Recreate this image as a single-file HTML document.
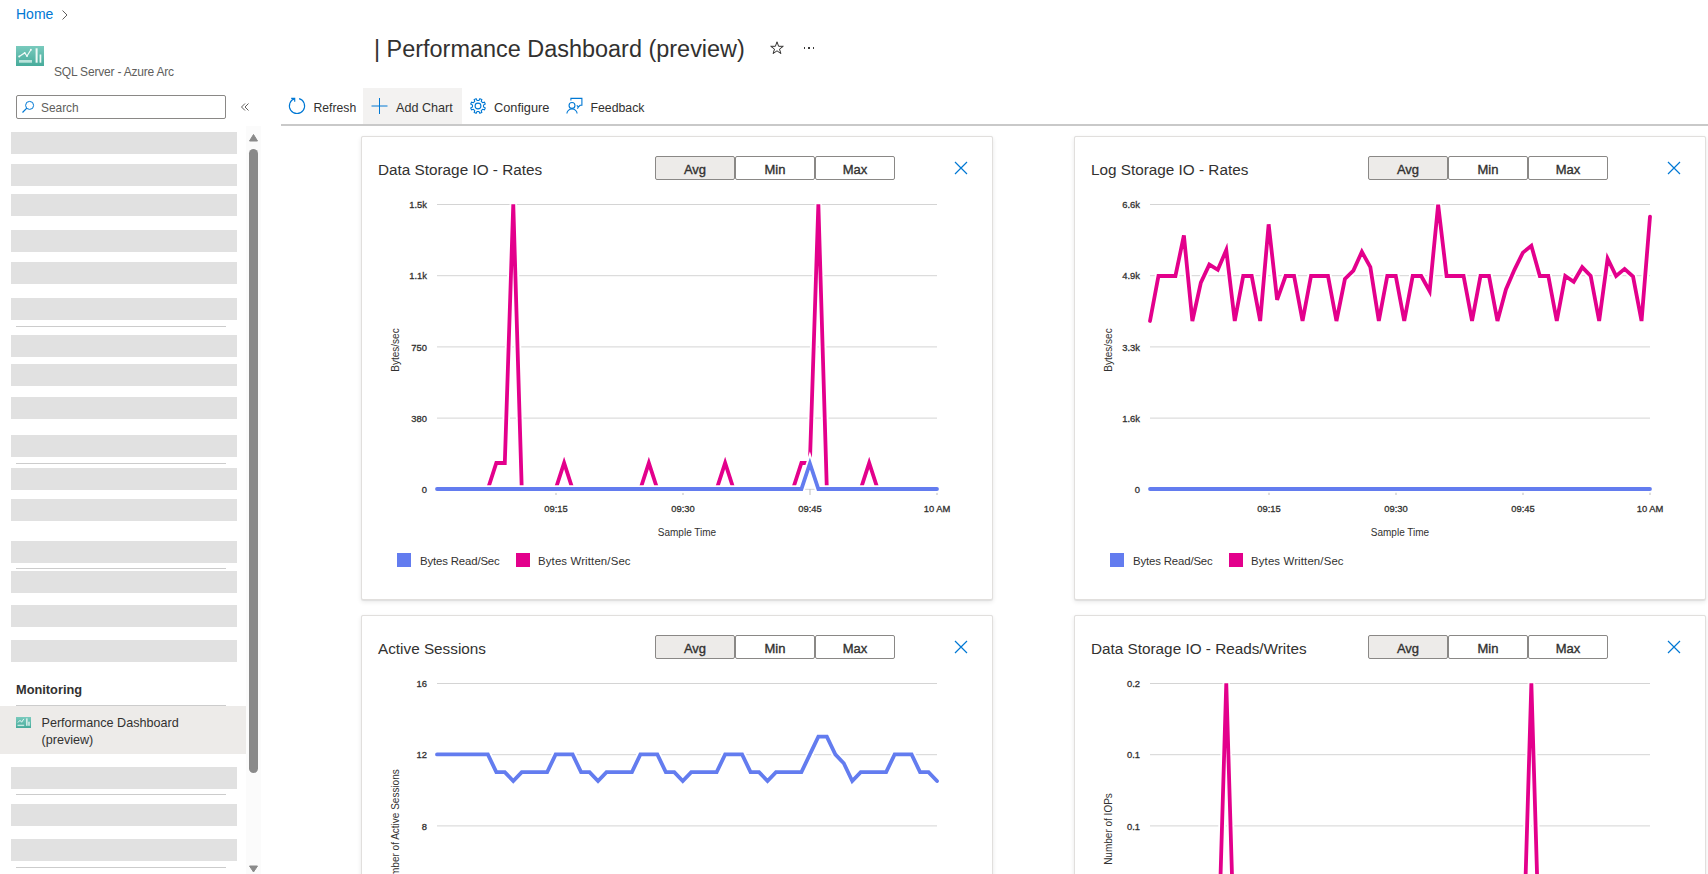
<!DOCTYPE html>
<html><head><meta charset="utf-8"><title>Performance Dashboard</title>
<style>
html,body{margin:0;padding:0;}
body{width:1708px;height:874px;position:relative;overflow:hidden;background:#fff;font-family:"Liberation Sans",sans-serif;}
.a{position:absolute;}
.t{position:absolute;white-space:nowrap;}
.card{border:1px solid #e1dfdd;border-radius:2px;background:#fff;box-shadow:0 2px 5px rgba(0,0,0,0.09),0 0.3px 0.9px rgba(0,0,0,0.07);}
.btn{width:78px;height:22px;border:1px solid #8a8886;border-radius:2px;font-size:13px;font-weight:400;-webkit-text-stroke:0.35px #323130;line-height:25.5px;text-align:center;color:#323130;}
</style></head><body>
<div class="t" style="left:16.00px;top:5.75px;font-size:14px;line-height:16.80px;color:#0078d4;font-weight:400;">Home</div>
<svg class="a" style="left:60px;top:8px" width="10" height="14" viewBox="0 0 10 14"><path d="M2.5 2.5 L7 7 L2.5 11.5" fill="none" stroke="#605e5c" stroke-width="1"/></svg>
<svg class="a" style="left:16px;top:46px" width="28" height="20" viewBox="0 0 28 20">
<defs><linearGradient id="tg" x1="0" y1="0" x2="0" y2="1"><stop offset="0" stop-color="#79cabd"/><stop offset="1" stop-color="#47ab9b"/></linearGradient></defs>
<rect x="0" y="0" width="28" height="20" fill="url(#tg)"/>
<polyline points="3.2,10.4 8.7,6.9 11,10 14.9,3.8" fill="none" stroke="#eef9f6" stroke-width="1.2"/>
<circle cx="3.2" cy="10.4" r="1" fill="#eef9f6"/><circle cx="8.7" cy="6.9" r="0.9" fill="#eef9f6"/><circle cx="11" cy="10" r="0.9" fill="#eef9f6"/><circle cx="14.9" cy="3.8" r="1" fill="#eef9f6"/>
<rect x="3" y="14" width="13" height="2.7" fill="#b9e3db"/>
<rect x="19.6" y="2.3" width="2" height="14.4" fill="#eef9f6"/>
<rect x="23.6" y="8.5" width="1.7" height="8.2" fill="#eef9f6"/>
</svg>
<div class="t" style="left:54.00px;top:64.64px;font-size:12px;line-height:14.40px;color:#605e5c;font-weight:400;letter-spacing:-0.2px;">SQL Server - Azure Arc</div>
<div class="t" style="left:374.00px;top:34.80px;font-size:23.45px;line-height:28.14px;color:#323130;font-weight:400;">| Performance Dashboard (preview)</div>
<svg class="a" style="left:769px;top:40px" width="16" height="16" viewBox="0 0 16 16"><path d="M8 1.8 L9.6 6.3 L14.3 6.3 L10.5 9.1 L11.9 13.6 L8 10.8 L4.1 13.6 L5.5 9.1 L1.7 6.3 L6.4 6.3 Z" fill="none" stroke="#323130" stroke-width="1" stroke-linejoin="miter"/></svg>
<div class="a" style="left:803.65px;top:47.2px;width:1.6px;height:1.6px;background:#3b3a39"></div>
<div class="a" style="left:808.25px;top:47.2px;width:1.6px;height:1.6px;background:#3b3a39"></div>
<div class="a" style="left:812.75px;top:47.2px;width:1.6px;height:1.6px;background:#3b3a39"></div>
<div class="a" style="left:16px;top:95px;width:208px;height:22px;border:1px solid #8a8886;border-radius:2px;background:#fff"></div>
<svg class="a" style="left:21px;top:100px" width="14" height="14" viewBox="0 0 14 14"><circle cx="8.6" cy="5.4" r="4" fill="none" stroke="#0078d4" stroke-width="1"/><line x1="5.8" y1="8.2" x2="1.5" y2="12.5" stroke="#0078d4" stroke-width="1.2"/></svg>
<div class="t" style="left:41.00px;top:101.14px;font-size:11.9px;line-height:14.28px;color:#605e5c;font-weight:400;">Search</div>
<svg class="a" style="left:239px;top:101px" width="12" height="12" viewBox="0 0 12 12"><path d="M6 2.5 L2.5 6 L6 9.5 M9.5 2.5 L6 6 L9.5 9.5" fill="none" stroke="#605e5c" stroke-width="1"/></svg>
<div class="a" style="left:11px;top:132px;width:226px;height:22px;background:#e1e1e1"></div>
<div class="a" style="left:11px;top:164px;width:226px;height:22px;background:#e1e1e1"></div>
<div class="a" style="left:11px;top:194px;width:226px;height:22px;background:#e1e1e1"></div>
<div class="a" style="left:11px;top:230px;width:226px;height:22px;background:#e1e1e1"></div>
<div class="a" style="left:11px;top:262px;width:226px;height:22px;background:#e1e1e1"></div>
<div class="a" style="left:11px;top:298px;width:226px;height:22px;background:#e1e1e1"></div>
<div class="a" style="left:11px;top:335px;width:226px;height:22px;background:#e1e1e1"></div>
<div class="a" style="left:11px;top:364px;width:226px;height:22px;background:#e1e1e1"></div>
<div class="a" style="left:11px;top:397px;width:226px;height:22px;background:#e1e1e1"></div>
<div class="a" style="left:11px;top:435px;width:226px;height:22px;background:#e1e1e1"></div>
<div class="a" style="left:11px;top:468px;width:226px;height:22px;background:#e1e1e1"></div>
<div class="a" style="left:11px;top:499px;width:226px;height:22px;background:#e1e1e1"></div>
<div class="a" style="left:11px;top:541px;width:226px;height:22px;background:#e1e1e1"></div>
<div class="a" style="left:11px;top:571px;width:226px;height:22px;background:#e1e1e1"></div>
<div class="a" style="left:11px;top:605px;width:226px;height:22px;background:#e1e1e1"></div>
<div class="a" style="left:11px;top:640px;width:226px;height:22px;background:#e1e1e1"></div>
<div class="a" style="left:11px;top:767px;width:226px;height:22px;background:#e1e1e1"></div>
<div class="a" style="left:11px;top:804px;width:226px;height:22px;background:#e1e1e1"></div>
<div class="a" style="left:11px;top:839px;width:226px;height:22px;background:#e1e1e1"></div>
<div class="a" style="left:16px;top:326px;width:210px;height:1px;background:#cccccc"></div>
<div class="a" style="left:16px;top:463px;width:210px;height:1px;background:#cccccc"></div>
<div class="a" style="left:16px;top:568px;width:210px;height:1px;background:#cccccc"></div>
<div class="a" style="left:16px;top:705px;width:210px;height:1px;background:#cccccc"></div>
<div class="a" style="left:16px;top:794px;width:210px;height:1px;background:#cccccc"></div>
<div class="a" style="left:16px;top:867px;width:210px;height:1px;background:#cccccc"></div>
<div class="t" style="left:16.00px;top:681.88px;font-size:12.8px;line-height:15.36px;color:#323130;font-weight:700;">Monitoring</div>
<div class="a" style="left:0px;top:706px;width:246px;height:48px;background:#edebe9"></div>
<svg class="a" style="left:16px;top:717px" width="15" height="11" viewBox="0 0 28 20" preserveAspectRatio="none">
<rect x="0" y="0" width="28" height="20" fill="url(#tg)"/>
<polyline points="3.5,10 7.5,6 10.5,9.5 14.5,3.5" fill="none" stroke="#e8f6f3" stroke-width="1.8"/>
<rect x="2.8" y="14" width="12.5" height="2.5" fill="#c5e8e1"/>
<rect x="19" y="2.5" width="2.5" height="13.5" fill="#e8f6f3"/>
<rect x="23" y="8.5" width="2.5" height="7.5" fill="#e8f6f3"/>
</svg>
<div class="t" style="left:41.50px;top:716.37px;font-size:12.6px;line-height:15.12px;color:#323130;font-weight:400;">Performance Dashboard</div>
<div class="t" style="left:41.50px;top:733.27px;font-size:12.6px;line-height:15.12px;color:#323130;font-weight:400;">(preview)</div>
<div class="a" style="left:246px;top:126px;width:15px;height:748px;background:#fbfbfb"></div>
<svg class="a" style="left:246px;top:130px" width="15" height="14" viewBox="0 0 15 14"><path d="M3.5 11 L7.5 4.5 L11.5 11 Z" fill="#8a8a8a" stroke="#8a8a8a" stroke-width="1" stroke-linejoin="round"/></svg>
<div class="a" style="left:249px;top:149px;width:9px;height:624px;background:#8a8a8a;border-radius:4.5px"></div>
<svg class="a" style="left:246px;top:862px" width="15" height="12" viewBox="0 0 15 12"><path d="M3.5 4 L7.5 10 L11.5 4 Z" fill="#8a8a8a" stroke="#8a8a8a" stroke-width="1" stroke-linejoin="round"/></svg>
<div class="a" style="left:363px;top:88px;width:99px;height:36px;background:#f3f2f1"></div>
<div class="a" style="left:281px;top:124px;width:1427px;height:2px;background:#c9c9c9"></div>
<svg class="a" style="left:287px;top:96px" width="20" height="20" viewBox="0 0 20 20"><path d="M7.9 2.6 A7.6 7.6 0 1 0 12.1 2.6" fill="none" stroke="#0078d4" stroke-width="1.15"/><path d="M4.2 2.4 H7.7 V5.8" fill="none" stroke="#0078d4" stroke-width="1.15"/></svg>
<div class="t" style="left:313.50px;top:100.95px;font-size:12.2px;line-height:14.64px;color:#323130;font-weight:400;">Refresh</div>
<svg class="a" style="left:371px;top:98px" width="17" height="16" viewBox="0 0 17 16"><line x1="8.5" y1="0" x2="8.5" y2="16" stroke="#0078d4" stroke-width="1"/><line x1="0.5" y1="8" x2="16.5" y2="8" stroke="#0078d4" stroke-width="1"/></svg>
<div class="t" style="left:396.00px;top:100.57px;font-size:12.6px;line-height:15.12px;color:#323130;font-weight:400;">Add Chart</div>
<svg class="a" style="left:466px;top:94px" width="24" height="24" viewBox="0 0 24 24"><polygon points="12.92,6.48 13.88,4.74 15.81,5.54 15.25,7.44 16.56,8.75 18.46,8.19 19.26,10.12 17.52,11.08 17.52,12.92 19.26,13.88 18.46,15.81 16.56,15.25 15.25,16.56 15.81,18.46 13.88,19.26 12.92,17.52 11.08,17.52 10.12,19.26 8.19,18.46 8.75,16.56 7.44,15.25 5.54,15.81 4.74,13.88 6.48,12.92 6.48,11.08 4.74,10.12 5.54,8.19 7.44,8.75 8.75,7.44 8.19,5.54 10.12,4.74 11.08,6.48" fill="none" stroke="#0078d4" stroke-width="1.1" stroke-linejoin="miter"/><circle cx="12" cy="12" r="2.9" fill="none" stroke="#0078d4" stroke-width="1.1"/></svg>
<div class="t" style="left:494.00px;top:100.38px;font-size:12.8px;line-height:15.36px;color:#323130;font-weight:400;">Configure</div>
<svg class="a" style="left:562px;top:94px" width="26" height="24" viewBox="0 0 26 24"><path d="M8.9 6.6 V4.4 H19.9 V11.3 H18.1 L16.4 13 L14.8 11.3 M16.4 13 L15.4 14.6" fill="none" stroke="#0078d4" stroke-width="1.1"/><circle cx="10" cy="11.4" r="2.95" fill="none" stroke="#0078d4" stroke-width="1.1"/><path d="M4.9 19.6 A5.1 4.6 0 0 1 15.1 19.6" fill="none" stroke="#0078d4" stroke-width="1.1"/></svg>
<div class="t" style="left:590.50px;top:100.86px;font-size:12.3px;line-height:14.76px;color:#323130;font-weight:400;">Feedback</div>
<div class="a card" style="left:361px;top:136px;width:630px;height:462px"></div>
<div class="t" style="left:378.00px;top:161.12px;font-size:15.3px;line-height:18.36px;color:#323130;font-weight:400;">Data Storage IO - Rates</div>
<div class="a btn" style="left:655px;top:156px;background:#edebe9">Avg</div>
<div class="a btn" style="left:735px;top:156px;background:#fff">Min</div>
<div class="a btn" style="left:815px;top:156px;background:#fff">Max</div>
<svg class="a" style="left:954px;top:161px" width="14" height="14" viewBox="0 0 14 14"><path d="M1 1 L13 13 M13 1 L1 13" stroke="#0078d4" stroke-width="1.2"/></svg>
<svg class="a" style="left:361px;top:136px" width="632" height="464" viewBox="0 0 632 464"><line x1="76" y1="68.5" x2="576" y2="68.5" stroke="#d4d4d4" stroke-width="1"/><line x1="76" y1="139.7" x2="576" y2="139.7" stroke="#d4d4d4" stroke-width="1"/><line x1="76" y1="210.9" x2="576" y2="210.9" stroke="#d4d4d4" stroke-width="1"/><line x1="76" y1="282.1" x2="576" y2="282.1" stroke="#d4d4d4" stroke-width="1"/><line x1="76" y1="353.3" x2="576" y2="353.3" stroke="#d4d4d4" stroke-width="1"/><line x1="195" y1="353" x2="195" y2="359" stroke="#bdbdbd" stroke-width="1"/><line x1="322" y1="353" x2="322" y2="359" stroke="#bdbdbd" stroke-width="1"/><line x1="449" y1="353" x2="449" y2="359" stroke="#bdbdbd" stroke-width="1"/><line x1="576" y1="353" x2="576" y2="359" stroke="#bdbdbd" stroke-width="1"/><polyline points="76.00,353.00 84.47,353.00 92.95,353.00 101.42,353.00 109.90,353.00 118.37,353.00 126.85,353.00 135.32,327.00 143.80,327.00 152.27,68.30 160.75,353.00 169.22,353.00 177.69,353.00 186.17,353.00 194.64,353.00 203.12,327.00 211.59,353.00 220.07,353.00 228.54,353.00 237.02,353.00 245.49,353.00 253.97,353.00 262.44,353.00 270.92,353.00 279.39,353.00 287.86,327.00 296.34,353.00 304.81,353.00 313.29,353.00 321.76,353.00 330.24,353.00 338.71,353.00 347.19,353.00 355.66,353.00 364.14,327.00 372.61,353.00 381.08,353.00 389.56,353.00 398.03,353.00 406.51,353.00 414.98,353.00 423.46,353.00 431.93,353.00 440.41,327.00 448.88,327.00 457.36,68.30 465.83,353.00 474.31,353.00 482.78,353.00 491.25,353.00 499.73,353.00 508.20,327.00 516.68,353.00 525.15,353.00 533.63,353.00 542.10,353.00 550.58,353.00 559.05,353.00 567.53,353.00 576.00,353.00" fill="none" stroke="#fff" stroke-width="7.5" stroke-linejoin="miter" stroke-miterlimit="4" stroke-linecap="round"/><polyline points="76.00,353.00 84.47,353.00 92.95,353.00 101.42,353.00 109.90,353.00 118.37,353.00 126.85,353.00 135.32,327.00 143.80,327.00 152.27,68.30 160.75,353.00 169.22,353.00 177.69,353.00 186.17,353.00 194.64,353.00 203.12,327.00 211.59,353.00 220.07,353.00 228.54,353.00 237.02,353.00 245.49,353.00 253.97,353.00 262.44,353.00 270.92,353.00 279.39,353.00 287.86,327.00 296.34,353.00 304.81,353.00 313.29,353.00 321.76,353.00 330.24,353.00 338.71,353.00 347.19,353.00 355.66,353.00 364.14,327.00 372.61,353.00 381.08,353.00 389.56,353.00 398.03,353.00 406.51,353.00 414.98,353.00 423.46,353.00 431.93,353.00 440.41,327.00 448.88,327.00 457.36,68.30 465.83,353.00 474.31,353.00 482.78,353.00 491.25,353.00 499.73,353.00 508.20,327.00 516.68,353.00 525.15,353.00 533.63,353.00 542.10,353.00 550.58,353.00 559.05,353.00 567.53,353.00 576.00,353.00" fill="none" stroke="#e3008c" stroke-width="3.8" stroke-linejoin="miter" stroke-miterlimit="4" stroke-linecap="round"/><polyline points="76.00,353.00 84.47,353.00 92.95,353.00 101.42,353.00 109.90,353.00 118.37,353.00 126.85,353.00 135.32,353.00 143.80,353.00 152.27,353.00 160.75,353.00 169.22,353.00 177.69,353.00 186.17,353.00 194.64,353.00 203.12,353.00 211.59,353.00 220.07,353.00 228.54,353.00 237.02,353.00 245.49,353.00 253.97,353.00 262.44,353.00 270.92,353.00 279.39,353.00 287.86,353.00 296.34,353.00 304.81,353.00 313.29,353.00 321.76,353.00 330.24,353.00 338.71,353.00 347.19,353.00 355.66,353.00 364.14,353.00 372.61,353.00 381.08,353.00 389.56,353.00 398.03,353.00 406.51,353.00 414.98,353.00 423.46,353.00 431.93,353.00 440.41,353.00 448.88,327.50 457.36,353.00 465.83,353.00 474.31,353.00 482.78,353.00 491.25,353.00 499.73,353.00 508.20,353.00 516.68,353.00 525.15,353.00 533.63,353.00 542.10,353.00 550.58,353.00 559.05,353.00 567.53,353.00 576.00,353.00" fill="none" stroke="#fff" stroke-width="7.5" stroke-linejoin="miter" stroke-miterlimit="4" stroke-linecap="round"/><polyline points="76.00,353.00 84.47,353.00 92.95,353.00 101.42,353.00 109.90,353.00 118.37,353.00 126.85,353.00 135.32,353.00 143.80,353.00 152.27,353.00 160.75,353.00 169.22,353.00 177.69,353.00 186.17,353.00 194.64,353.00 203.12,353.00 211.59,353.00 220.07,353.00 228.54,353.00 237.02,353.00 245.49,353.00 253.97,353.00 262.44,353.00 270.92,353.00 279.39,353.00 287.86,353.00 296.34,353.00 304.81,353.00 313.29,353.00 321.76,353.00 330.24,353.00 338.71,353.00 347.19,353.00 355.66,353.00 364.14,353.00 372.61,353.00 381.08,353.00 389.56,353.00 398.03,353.00 406.51,353.00 414.98,353.00 423.46,353.00 431.93,353.00 440.41,353.00 448.88,327.50 457.36,353.00 465.83,353.00 474.31,353.00 482.78,353.00 491.25,353.00 499.73,353.00 508.20,353.00 516.68,353.00 525.15,353.00 533.63,353.00 542.10,353.00 550.58,353.00 559.05,353.00 567.53,353.00 576.00,353.00" fill="none" stroke="#637cef" stroke-width="3.8" stroke-linejoin="miter" stroke-miterlimit="4" stroke-linecap="round"/></svg>
<div class="t" style="right:1281.00px;top:199.10px;font-size:9.4px;line-height:11.28px;color:#323130;font-weight:400;-webkit-text-stroke:0.3px #323130;">1.5k</div>
<div class="t" style="right:1281.00px;top:270.30px;font-size:9.4px;line-height:11.28px;color:#323130;font-weight:400;-webkit-text-stroke:0.3px #323130;">1.1k</div>
<div class="t" style="right:1281.00px;top:341.50px;font-size:9.4px;line-height:11.28px;color:#323130;font-weight:400;-webkit-text-stroke:0.3px #323130;">750</div>
<div class="t" style="right:1281.00px;top:412.70px;font-size:9.4px;line-height:11.28px;color:#323130;font-weight:400;-webkit-text-stroke:0.3px #323130;">380</div>
<div class="t" style="right:1281.00px;top:483.90px;font-size:9.4px;line-height:11.28px;color:#323130;font-weight:400;-webkit-text-stroke:0.3px #323130;">0</div>
<div class="t" style="left:246px;top:344.00px;width:300px;text-align:center;font-size:10px;line-height:12.0px;color:#323130;transform:rotate(-90deg)">Bytes/sec</div>
<div class="t" style="left:356.00px;width:400px;text-align:center;top:503.00px;font-size:9.4px;line-height:11.28px;color:#323130;font-weight:400;-webkit-text-stroke:0.3px #323130;">09:15</div>
<div class="t" style="left:483.00px;width:400px;text-align:center;top:503.00px;font-size:9.4px;line-height:11.28px;color:#323130;font-weight:400;-webkit-text-stroke:0.3px #323130;">09:30</div>
<div class="t" style="left:610.00px;width:400px;text-align:center;top:503.00px;font-size:9.4px;line-height:11.28px;color:#323130;font-weight:400;-webkit-text-stroke:0.3px #323130;">09:45</div>
<div class="t" style="left:737.00px;width:400px;text-align:center;top:503.00px;font-size:9.4px;line-height:11.28px;color:#323130;font-weight:400;-webkit-text-stroke:0.3px #323130;">10 AM</div>
<div class="t" style="left:487.00px;width:400px;text-align:center;top:526.83px;font-size:10px;line-height:12.00px;color:#323130;font-weight:400;">Sample Time</div>
<div class="a" style="left:397px;top:553px;width:14px;height:14px;background:#637cef"></div>
<div class="t" style="left:420.00px;top:554.81px;font-size:11.4px;line-height:13.68px;color:#323130;font-weight:400;letter-spacing:-0.15px;">Bytes Read/Sec</div>
<div class="a" style="left:516px;top:553px;width:14px;height:14px;background:#e3008c"></div>
<div class="t" style="left:538.00px;top:554.81px;font-size:11.4px;line-height:13.68px;color:#323130;font-weight:400;letter-spacing:0.14px;">Bytes Written/Sec</div>
<div class="a card" style="left:1074px;top:136px;width:630px;height:462px"></div>
<div class="t" style="left:1091.00px;top:161.12px;font-size:15.3px;line-height:18.36px;color:#323130;font-weight:400;">Log Storage IO - Rates</div>
<div class="a btn" style="left:1368px;top:156px;background:#edebe9">Avg</div>
<div class="a btn" style="left:1448px;top:156px;background:#fff">Min</div>
<div class="a btn" style="left:1528px;top:156px;background:#fff">Max</div>
<svg class="a" style="left:1667px;top:161px" width="14" height="14" viewBox="0 0 14 14"><path d="M1 1 L13 13 M13 1 L1 13" stroke="#0078d4" stroke-width="1.2"/></svg>
<svg class="a" style="left:1074px;top:136px" width="632" height="464" viewBox="0 0 632 464"><line x1="76" y1="68.5" x2="576" y2="68.5" stroke="#d4d4d4" stroke-width="1"/><line x1="76" y1="139.7" x2="576" y2="139.7" stroke="#d4d4d4" stroke-width="1"/><line x1="76" y1="210.9" x2="576" y2="210.9" stroke="#d4d4d4" stroke-width="1"/><line x1="76" y1="282.1" x2="576" y2="282.1" stroke="#d4d4d4" stroke-width="1"/><line x1="76" y1="353.3" x2="576" y2="353.3" stroke="#d4d4d4" stroke-width="1"/><line x1="195" y1="353" x2="195" y2="359" stroke="#bdbdbd" stroke-width="1"/><line x1="322" y1="353" x2="322" y2="359" stroke="#bdbdbd" stroke-width="1"/><line x1="449" y1="353" x2="449" y2="359" stroke="#bdbdbd" stroke-width="1"/><line x1="576" y1="353" x2="576" y2="359" stroke="#bdbdbd" stroke-width="1"/><polyline points="76.00,185.00 84.47,140.00 92.95,140.00 101.42,140.00 109.90,99.50 118.37,185.00 126.85,146.60 135.32,128.60 143.80,133.80 152.27,114.00 160.75,185.00 169.22,140.00 177.69,140.00 186.17,185.00 194.64,88.30 203.12,163.80 211.59,140.00 220.07,140.00 228.54,185.00 237.02,140.00 245.49,140.00 253.97,140.00 262.44,185.00 270.92,143.00 279.39,134.60 287.86,115.80 296.34,131.20 304.81,185.00 313.29,140.00 321.76,140.00 330.24,185.00 338.71,140.00 347.19,140.00 355.66,155.20 364.14,68.60 372.61,140.00 381.08,140.00 389.56,140.00 398.03,185.00 406.51,140.00 414.98,140.00 423.46,185.00 431.93,153.50 440.41,133.80 448.88,116.60 457.36,109.80 465.83,140.00 474.31,140.00 482.78,185.00 491.25,140.00 499.73,145.80 508.20,131.20 516.68,140.00 525.15,185.00 533.63,122.60 542.10,140.00 550.58,132.90 559.05,140.60 567.53,185.00 576.00,80.60" fill="none" stroke="#fff" stroke-width="7.5" stroke-linejoin="miter" stroke-miterlimit="4" stroke-linecap="round"/><polyline points="76.00,185.00 84.47,140.00 92.95,140.00 101.42,140.00 109.90,99.50 118.37,185.00 126.85,146.60 135.32,128.60 143.80,133.80 152.27,114.00 160.75,185.00 169.22,140.00 177.69,140.00 186.17,185.00 194.64,88.30 203.12,163.80 211.59,140.00 220.07,140.00 228.54,185.00 237.02,140.00 245.49,140.00 253.97,140.00 262.44,185.00 270.92,143.00 279.39,134.60 287.86,115.80 296.34,131.20 304.81,185.00 313.29,140.00 321.76,140.00 330.24,185.00 338.71,140.00 347.19,140.00 355.66,155.20 364.14,68.60 372.61,140.00 381.08,140.00 389.56,140.00 398.03,185.00 406.51,140.00 414.98,140.00 423.46,185.00 431.93,153.50 440.41,133.80 448.88,116.60 457.36,109.80 465.83,140.00 474.31,140.00 482.78,185.00 491.25,140.00 499.73,145.80 508.20,131.20 516.68,140.00 525.15,185.00 533.63,122.60 542.10,140.00 550.58,132.90 559.05,140.60 567.53,185.00 576.00,80.60" fill="none" stroke="#e3008c" stroke-width="3.8" stroke-linejoin="miter" stroke-miterlimit="4" stroke-linecap="round"/><polyline points="76.00,353.00 84.47,353.00 92.95,353.00 101.42,353.00 109.90,353.00 118.37,353.00 126.85,353.00 135.32,353.00 143.80,353.00 152.27,353.00 160.75,353.00 169.22,353.00 177.69,353.00 186.17,353.00 194.64,353.00 203.12,353.00 211.59,353.00 220.07,353.00 228.54,353.00 237.02,353.00 245.49,353.00 253.97,353.00 262.44,353.00 270.92,353.00 279.39,353.00 287.86,353.00 296.34,353.00 304.81,353.00 313.29,353.00 321.76,353.00 330.24,353.00 338.71,353.00 347.19,353.00 355.66,353.00 364.14,353.00 372.61,353.00 381.08,353.00 389.56,353.00 398.03,353.00 406.51,353.00 414.98,353.00 423.46,353.00 431.93,353.00 440.41,353.00 448.88,353.00 457.36,353.00 465.83,353.00 474.31,353.00 482.78,353.00 491.25,353.00 499.73,353.00 508.20,353.00 516.68,353.00 525.15,353.00 533.63,353.00 542.10,353.00 550.58,353.00 559.05,353.00 567.53,353.00 576.00,353.00" fill="none" stroke="#fff" stroke-width="7.5" stroke-linejoin="miter" stroke-miterlimit="4" stroke-linecap="round"/><polyline points="76.00,353.00 84.47,353.00 92.95,353.00 101.42,353.00 109.90,353.00 118.37,353.00 126.85,353.00 135.32,353.00 143.80,353.00 152.27,353.00 160.75,353.00 169.22,353.00 177.69,353.00 186.17,353.00 194.64,353.00 203.12,353.00 211.59,353.00 220.07,353.00 228.54,353.00 237.02,353.00 245.49,353.00 253.97,353.00 262.44,353.00 270.92,353.00 279.39,353.00 287.86,353.00 296.34,353.00 304.81,353.00 313.29,353.00 321.76,353.00 330.24,353.00 338.71,353.00 347.19,353.00 355.66,353.00 364.14,353.00 372.61,353.00 381.08,353.00 389.56,353.00 398.03,353.00 406.51,353.00 414.98,353.00 423.46,353.00 431.93,353.00 440.41,353.00 448.88,353.00 457.36,353.00 465.83,353.00 474.31,353.00 482.78,353.00 491.25,353.00 499.73,353.00 508.20,353.00 516.68,353.00 525.15,353.00 533.63,353.00 542.10,353.00 550.58,353.00 559.05,353.00 567.53,353.00 576.00,353.00" fill="none" stroke="#637cef" stroke-width="3.8" stroke-linejoin="miter" stroke-miterlimit="4" stroke-linecap="round"/></svg>
<div class="t" style="right:568.00px;top:199.10px;font-size:9.4px;line-height:11.28px;color:#323130;font-weight:400;-webkit-text-stroke:0.3px #323130;">6.6k</div>
<div class="t" style="right:568.00px;top:270.30px;font-size:9.4px;line-height:11.28px;color:#323130;font-weight:400;-webkit-text-stroke:0.3px #323130;">4.9k</div>
<div class="t" style="right:568.00px;top:341.50px;font-size:9.4px;line-height:11.28px;color:#323130;font-weight:400;-webkit-text-stroke:0.3px #323130;">3.3k</div>
<div class="t" style="right:568.00px;top:412.70px;font-size:9.4px;line-height:11.28px;color:#323130;font-weight:400;-webkit-text-stroke:0.3px #323130;">1.6k</div>
<div class="t" style="right:568.00px;top:483.90px;font-size:9.4px;line-height:11.28px;color:#323130;font-weight:400;-webkit-text-stroke:0.3px #323130;">0</div>
<div class="t" style="left:959px;top:344.00px;width:300px;text-align:center;font-size:10px;line-height:12.0px;color:#323130;transform:rotate(-90deg)">Bytes/sec</div>
<div class="t" style="left:1069.00px;width:400px;text-align:center;top:503.00px;font-size:9.4px;line-height:11.28px;color:#323130;font-weight:400;-webkit-text-stroke:0.3px #323130;">09:15</div>
<div class="t" style="left:1196.00px;width:400px;text-align:center;top:503.00px;font-size:9.4px;line-height:11.28px;color:#323130;font-weight:400;-webkit-text-stroke:0.3px #323130;">09:30</div>
<div class="t" style="left:1323.00px;width:400px;text-align:center;top:503.00px;font-size:9.4px;line-height:11.28px;color:#323130;font-weight:400;-webkit-text-stroke:0.3px #323130;">09:45</div>
<div class="t" style="left:1450.00px;width:400px;text-align:center;top:503.00px;font-size:9.4px;line-height:11.28px;color:#323130;font-weight:400;-webkit-text-stroke:0.3px #323130;">10 AM</div>
<div class="t" style="left:1200.00px;width:400px;text-align:center;top:526.83px;font-size:10px;line-height:12.00px;color:#323130;font-weight:400;">Sample Time</div>
<div class="a" style="left:1110px;top:553px;width:14px;height:14px;background:#637cef"></div>
<div class="t" style="left:1133.00px;top:554.81px;font-size:11.4px;line-height:13.68px;color:#323130;font-weight:400;letter-spacing:-0.15px;">Bytes Read/Sec</div>
<div class="a" style="left:1229px;top:553px;width:14px;height:14px;background:#e3008c"></div>
<div class="t" style="left:1251.00px;top:554.81px;font-size:11.4px;line-height:13.68px;color:#323130;font-weight:400;letter-spacing:0.14px;">Bytes Written/Sec</div>
<div class="a card" style="left:361px;top:615px;width:630px;height:462px"></div>
<div class="t" style="left:378.00px;top:640.12px;font-size:15.3px;line-height:18.36px;color:#323130;font-weight:400;">Active Sessions</div>
<div class="a btn" style="left:655px;top:635px;background:#edebe9">Avg</div>
<div class="a btn" style="left:735px;top:635px;background:#fff">Min</div>
<div class="a btn" style="left:815px;top:635px;background:#fff">Max</div>
<svg class="a" style="left:954px;top:640px" width="14" height="14" viewBox="0 0 14 14"><path d="M1 1 L13 13 M13 1 L1 13" stroke="#0078d4" stroke-width="1.2"/></svg>
<svg class="a" style="left:361px;top:615px" width="632" height="464" viewBox="0 0 632 464"><line x1="76" y1="68.5" x2="576" y2="68.5" stroke="#d4d4d4" stroke-width="1"/><line x1="76" y1="139.7" x2="576" y2="139.7" stroke="#d4d4d4" stroke-width="1"/><line x1="76" y1="210.9" x2="576" y2="210.9" stroke="#d4d4d4" stroke-width="1"/><line x1="76" y1="282.1" x2="576" y2="282.1" stroke="#d4d4d4" stroke-width="1"/><line x1="76" y1="353.3" x2="576" y2="353.3" stroke="#d4d4d4" stroke-width="1"/><line x1="195" y1="353" x2="195" y2="359" stroke="#bdbdbd" stroke-width="1"/><line x1="322" y1="353" x2="322" y2="359" stroke="#bdbdbd" stroke-width="1"/><line x1="449" y1="353" x2="449" y2="359" stroke="#bdbdbd" stroke-width="1"/><line x1="576" y1="353" x2="576" y2="359" stroke="#bdbdbd" stroke-width="1"/><polyline points="76.00,139.40 84.47,139.40 92.95,139.40 101.42,139.40 109.90,139.40 118.37,139.40 126.85,139.40 135.32,157.15 143.80,157.15 152.27,166.03 160.75,157.15 169.22,157.15 177.69,157.15 186.17,157.15 194.64,139.40 203.12,139.40 211.59,139.40 220.07,157.15 228.54,157.15 237.02,166.03 245.49,157.15 253.97,157.15 262.44,157.15 270.92,157.15 279.39,139.40 287.86,139.40 296.34,139.40 304.81,157.15 313.29,157.15 321.76,166.03 330.24,157.15 338.71,157.15 347.19,157.15 355.66,157.15 364.14,139.40 372.61,139.40 381.08,139.40 389.56,157.15 398.03,157.15 406.51,166.03 414.98,157.15 423.46,157.15 431.93,157.15 440.41,157.15 448.88,139.40 457.36,121.65 465.83,121.65 474.31,139.40 482.78,148.28 491.25,166.03 499.73,157.15 508.20,157.15 516.68,157.15 525.15,157.15 533.63,139.40 542.10,139.40 550.58,139.40 559.05,157.15 567.53,157.15 576.00,166.03" fill="none" stroke="#fff" stroke-width="7.5" stroke-linejoin="miter" stroke-miterlimit="4" stroke-linecap="round"/><polyline points="76.00,139.40 84.47,139.40 92.95,139.40 101.42,139.40 109.90,139.40 118.37,139.40 126.85,139.40 135.32,157.15 143.80,157.15 152.27,166.03 160.75,157.15 169.22,157.15 177.69,157.15 186.17,157.15 194.64,139.40 203.12,139.40 211.59,139.40 220.07,157.15 228.54,157.15 237.02,166.03 245.49,157.15 253.97,157.15 262.44,157.15 270.92,157.15 279.39,139.40 287.86,139.40 296.34,139.40 304.81,157.15 313.29,157.15 321.76,166.03 330.24,157.15 338.71,157.15 347.19,157.15 355.66,157.15 364.14,139.40 372.61,139.40 381.08,139.40 389.56,157.15 398.03,157.15 406.51,166.03 414.98,157.15 423.46,157.15 431.93,157.15 440.41,157.15 448.88,139.40 457.36,121.65 465.83,121.65 474.31,139.40 482.78,148.28 491.25,166.03 499.73,157.15 508.20,157.15 516.68,157.15 525.15,157.15 533.63,139.40 542.10,139.40 550.58,139.40 559.05,157.15 567.53,157.15 576.00,166.03" fill="none" stroke="#637cef" stroke-width="3.8" stroke-linejoin="miter" stroke-miterlimit="4" stroke-linecap="round"/></svg>
<div class="t" style="right:1281.00px;top:678.10px;font-size:9.4px;line-height:11.28px;color:#323130;font-weight:400;-webkit-text-stroke:0.3px #323130;">16</div>
<div class="t" style="right:1281.00px;top:749.30px;font-size:9.4px;line-height:11.28px;color:#323130;font-weight:400;-webkit-text-stroke:0.3px #323130;">12</div>
<div class="t" style="right:1281.00px;top:820.50px;font-size:9.4px;line-height:11.28px;color:#323130;font-weight:400;-webkit-text-stroke:0.3px #323130;">8</div>
<div class="t" style="right:1281.00px;top:891.70px;font-size:9.4px;line-height:11.28px;color:#323130;font-weight:400;-webkit-text-stroke:0.3px #323130;">4</div>
<div class="t" style="right:1281.00px;top:962.90px;font-size:9.4px;line-height:11.28px;color:#323130;font-weight:400;-webkit-text-stroke:0.3px #323130;">0</div>
<div class="t" style="left:246px;top:823.00px;width:300px;text-align:center;font-size:10px;line-height:12.0px;color:#323130;transform:rotate(-90deg)">Number of Active Sessions</div>
<div class="t" style="left:356.00px;width:400px;text-align:center;top:982.00px;font-size:9.4px;line-height:11.28px;color:#323130;font-weight:400;-webkit-text-stroke:0.3px #323130;">09:15</div>
<div class="t" style="left:483.00px;width:400px;text-align:center;top:982.00px;font-size:9.4px;line-height:11.28px;color:#323130;font-weight:400;-webkit-text-stroke:0.3px #323130;">09:30</div>
<div class="t" style="left:610.00px;width:400px;text-align:center;top:982.00px;font-size:9.4px;line-height:11.28px;color:#323130;font-weight:400;-webkit-text-stroke:0.3px #323130;">09:45</div>
<div class="t" style="left:737.00px;width:400px;text-align:center;top:982.00px;font-size:9.4px;line-height:11.28px;color:#323130;font-weight:400;-webkit-text-stroke:0.3px #323130;">10 AM</div>
<div class="t" style="left:487.00px;width:400px;text-align:center;top:1005.83px;font-size:10px;line-height:12.00px;color:#323130;font-weight:400;">Sample Time</div>
<div class="a" style="left:397px;top:1032px;width:14px;height:14px;background:#637cef"></div>
<div class="t" style="left:420.00px;top:1033.81px;font-size:11.4px;line-height:13.68px;color:#323130;font-weight:400;letter-spacing:-0.15px;">Bytes Read/Sec</div>
<div class="a" style="left:516px;top:1032px;width:14px;height:14px;background:#e3008c"></div>
<div class="t" style="left:538.00px;top:1033.81px;font-size:11.4px;line-height:13.68px;color:#323130;font-weight:400;letter-spacing:0.14px;">Bytes Written/Sec</div>
<div class="a card" style="left:1074px;top:615px;width:630px;height:462px"></div>
<div class="t" style="left:1091.00px;top:640.12px;font-size:15.3px;line-height:18.36px;color:#323130;font-weight:400;">Data Storage IO - Reads/Writes</div>
<div class="a btn" style="left:1368px;top:635px;background:#edebe9">Avg</div>
<div class="a btn" style="left:1448px;top:635px;background:#fff">Min</div>
<div class="a btn" style="left:1528px;top:635px;background:#fff">Max</div>
<svg class="a" style="left:1667px;top:640px" width="14" height="14" viewBox="0 0 14 14"><path d="M1 1 L13 13 M13 1 L1 13" stroke="#0078d4" stroke-width="1.2"/></svg>
<svg class="a" style="left:1074px;top:615px" width="632" height="464" viewBox="0 0 632 464"><line x1="76" y1="68.5" x2="576" y2="68.5" stroke="#d4d4d4" stroke-width="1"/><line x1="76" y1="139.7" x2="576" y2="139.7" stroke="#d4d4d4" stroke-width="1"/><line x1="76" y1="210.9" x2="576" y2="210.9" stroke="#d4d4d4" stroke-width="1"/><line x1="76" y1="282.1" x2="576" y2="282.1" stroke="#d4d4d4" stroke-width="1"/><line x1="76" y1="353.3" x2="576" y2="353.3" stroke="#d4d4d4" stroke-width="1"/><line x1="195" y1="353" x2="195" y2="359" stroke="#bdbdbd" stroke-width="1"/><line x1="322" y1="353" x2="322" y2="359" stroke="#bdbdbd" stroke-width="1"/><line x1="449" y1="353" x2="449" y2="359" stroke="#bdbdbd" stroke-width="1"/><line x1="576" y1="353" x2="576" y2="359" stroke="#bdbdbd" stroke-width="1"/><polyline points="76.00,353.00 84.47,353.00 92.95,353.00 101.42,353.00 109.90,353.00 118.37,353.00 126.85,353.00 135.32,353.00 143.80,353.00 152.27,68.30 160.75,353.00 169.22,353.00 177.69,353.00 186.17,353.00 194.64,353.00 203.12,353.00 211.59,353.00 220.07,353.00 228.54,353.00 237.02,353.00 245.49,353.00 253.97,353.00 262.44,353.00 270.92,353.00 279.39,353.00 287.86,353.00 296.34,353.00 304.81,353.00 313.29,353.00 321.76,353.00 330.24,353.00 338.71,353.00 347.19,353.00 355.66,353.00 364.14,353.00 372.61,353.00 381.08,353.00 389.56,353.00 398.03,353.00 406.51,353.00 414.98,353.00 423.46,353.00 431.93,353.00 440.41,353.00 448.88,353.00 457.36,68.30 465.83,353.00 474.31,353.00 482.78,353.00 491.25,353.00 499.73,353.00 508.20,353.00 516.68,353.00 525.15,353.00 533.63,353.00 542.10,353.00 550.58,353.00 559.05,353.00 567.53,353.00 576.00,353.00" fill="none" stroke="#fff" stroke-width="7.5" stroke-linejoin="miter" stroke-miterlimit="4" stroke-linecap="round"/><polyline points="76.00,353.00 84.47,353.00 92.95,353.00 101.42,353.00 109.90,353.00 118.37,353.00 126.85,353.00 135.32,353.00 143.80,353.00 152.27,68.30 160.75,353.00 169.22,353.00 177.69,353.00 186.17,353.00 194.64,353.00 203.12,353.00 211.59,353.00 220.07,353.00 228.54,353.00 237.02,353.00 245.49,353.00 253.97,353.00 262.44,353.00 270.92,353.00 279.39,353.00 287.86,353.00 296.34,353.00 304.81,353.00 313.29,353.00 321.76,353.00 330.24,353.00 338.71,353.00 347.19,353.00 355.66,353.00 364.14,353.00 372.61,353.00 381.08,353.00 389.56,353.00 398.03,353.00 406.51,353.00 414.98,353.00 423.46,353.00 431.93,353.00 440.41,353.00 448.88,353.00 457.36,68.30 465.83,353.00 474.31,353.00 482.78,353.00 491.25,353.00 499.73,353.00 508.20,353.00 516.68,353.00 525.15,353.00 533.63,353.00 542.10,353.00 550.58,353.00 559.05,353.00 567.53,353.00 576.00,353.00" fill="none" stroke="#e3008c" stroke-width="3.8" stroke-linejoin="miter" stroke-miterlimit="4" stroke-linecap="round"/><polyline points="76.00,353.00 84.47,353.00 92.95,353.00 101.42,353.00 109.90,353.00 118.37,353.00 126.85,353.00 135.32,353.00 143.80,353.00 152.27,353.00 160.75,353.00 169.22,353.00 177.69,353.00 186.17,353.00 194.64,353.00 203.12,353.00 211.59,353.00 220.07,353.00 228.54,353.00 237.02,353.00 245.49,353.00 253.97,353.00 262.44,353.00 270.92,353.00 279.39,353.00 287.86,353.00 296.34,353.00 304.81,353.00 313.29,353.00 321.76,353.00 330.24,353.00 338.71,353.00 347.19,353.00 355.66,353.00 364.14,353.00 372.61,353.00 381.08,353.00 389.56,353.00 398.03,353.00 406.51,353.00 414.98,353.00 423.46,353.00 431.93,353.00 440.41,353.00 448.88,353.00 457.36,353.00 465.83,353.00 474.31,353.00 482.78,353.00 491.25,353.00 499.73,353.00 508.20,353.00 516.68,353.00 525.15,353.00 533.63,353.00 542.10,353.00 550.58,353.00 559.05,353.00 567.53,353.00 576.00,353.00" fill="none" stroke="#fff" stroke-width="7.5" stroke-linejoin="miter" stroke-miterlimit="4" stroke-linecap="round"/><polyline points="76.00,353.00 84.47,353.00 92.95,353.00 101.42,353.00 109.90,353.00 118.37,353.00 126.85,353.00 135.32,353.00 143.80,353.00 152.27,353.00 160.75,353.00 169.22,353.00 177.69,353.00 186.17,353.00 194.64,353.00 203.12,353.00 211.59,353.00 220.07,353.00 228.54,353.00 237.02,353.00 245.49,353.00 253.97,353.00 262.44,353.00 270.92,353.00 279.39,353.00 287.86,353.00 296.34,353.00 304.81,353.00 313.29,353.00 321.76,353.00 330.24,353.00 338.71,353.00 347.19,353.00 355.66,353.00 364.14,353.00 372.61,353.00 381.08,353.00 389.56,353.00 398.03,353.00 406.51,353.00 414.98,353.00 423.46,353.00 431.93,353.00 440.41,353.00 448.88,353.00 457.36,353.00 465.83,353.00 474.31,353.00 482.78,353.00 491.25,353.00 499.73,353.00 508.20,353.00 516.68,353.00 525.15,353.00 533.63,353.00 542.10,353.00 550.58,353.00 559.05,353.00 567.53,353.00 576.00,353.00" fill="none" stroke="#637cef" stroke-width="3.8" stroke-linejoin="miter" stroke-miterlimit="4" stroke-linecap="round"/></svg>
<div class="t" style="right:568.00px;top:678.10px;font-size:9.4px;line-height:11.28px;color:#323130;font-weight:400;-webkit-text-stroke:0.3px #323130;">0.2</div>
<div class="t" style="right:568.00px;top:749.30px;font-size:9.4px;line-height:11.28px;color:#323130;font-weight:400;-webkit-text-stroke:0.3px #323130;">0.1</div>
<div class="t" style="right:568.00px;top:820.50px;font-size:9.4px;line-height:11.28px;color:#323130;font-weight:400;-webkit-text-stroke:0.3px #323130;">0.1</div>
<div class="t" style="right:568.00px;top:891.70px;font-size:9.4px;line-height:11.28px;color:#323130;font-weight:400;-webkit-text-stroke:0.3px #323130;">0.1</div>
<div class="t" style="right:568.00px;top:962.90px;font-size:9.4px;line-height:11.28px;color:#323130;font-weight:400;-webkit-text-stroke:0.3px #323130;">0</div>
<div class="t" style="left:959px;top:823.00px;width:300px;text-align:center;font-size:10px;line-height:12.0px;color:#323130;transform:rotate(-90deg)">Number of IOPs</div>
<div class="t" style="left:1069.00px;width:400px;text-align:center;top:982.00px;font-size:9.4px;line-height:11.28px;color:#323130;font-weight:400;-webkit-text-stroke:0.3px #323130;">09:15</div>
<div class="t" style="left:1196.00px;width:400px;text-align:center;top:982.00px;font-size:9.4px;line-height:11.28px;color:#323130;font-weight:400;-webkit-text-stroke:0.3px #323130;">09:30</div>
<div class="t" style="left:1323.00px;width:400px;text-align:center;top:982.00px;font-size:9.4px;line-height:11.28px;color:#323130;font-weight:400;-webkit-text-stroke:0.3px #323130;">09:45</div>
<div class="t" style="left:1450.00px;width:400px;text-align:center;top:982.00px;font-size:9.4px;line-height:11.28px;color:#323130;font-weight:400;-webkit-text-stroke:0.3px #323130;">10 AM</div>
<div class="t" style="left:1200.00px;width:400px;text-align:center;top:1005.83px;font-size:10px;line-height:12.00px;color:#323130;font-weight:400;">Sample Time</div>
<div class="a" style="left:1110px;top:1032px;width:14px;height:14px;background:#637cef"></div>
<div class="t" style="left:1133.00px;top:1033.81px;font-size:11.4px;line-height:13.68px;color:#323130;font-weight:400;letter-spacing:-0.15px;">Bytes Read/Sec</div>
<div class="a" style="left:1229px;top:1032px;width:14px;height:14px;background:#e3008c"></div>
<div class="t" style="left:1251.00px;top:1033.81px;font-size:11.4px;line-height:13.68px;color:#323130;font-weight:400;letter-spacing:0.14px;">Bytes Written/Sec</div>

</body></html>
